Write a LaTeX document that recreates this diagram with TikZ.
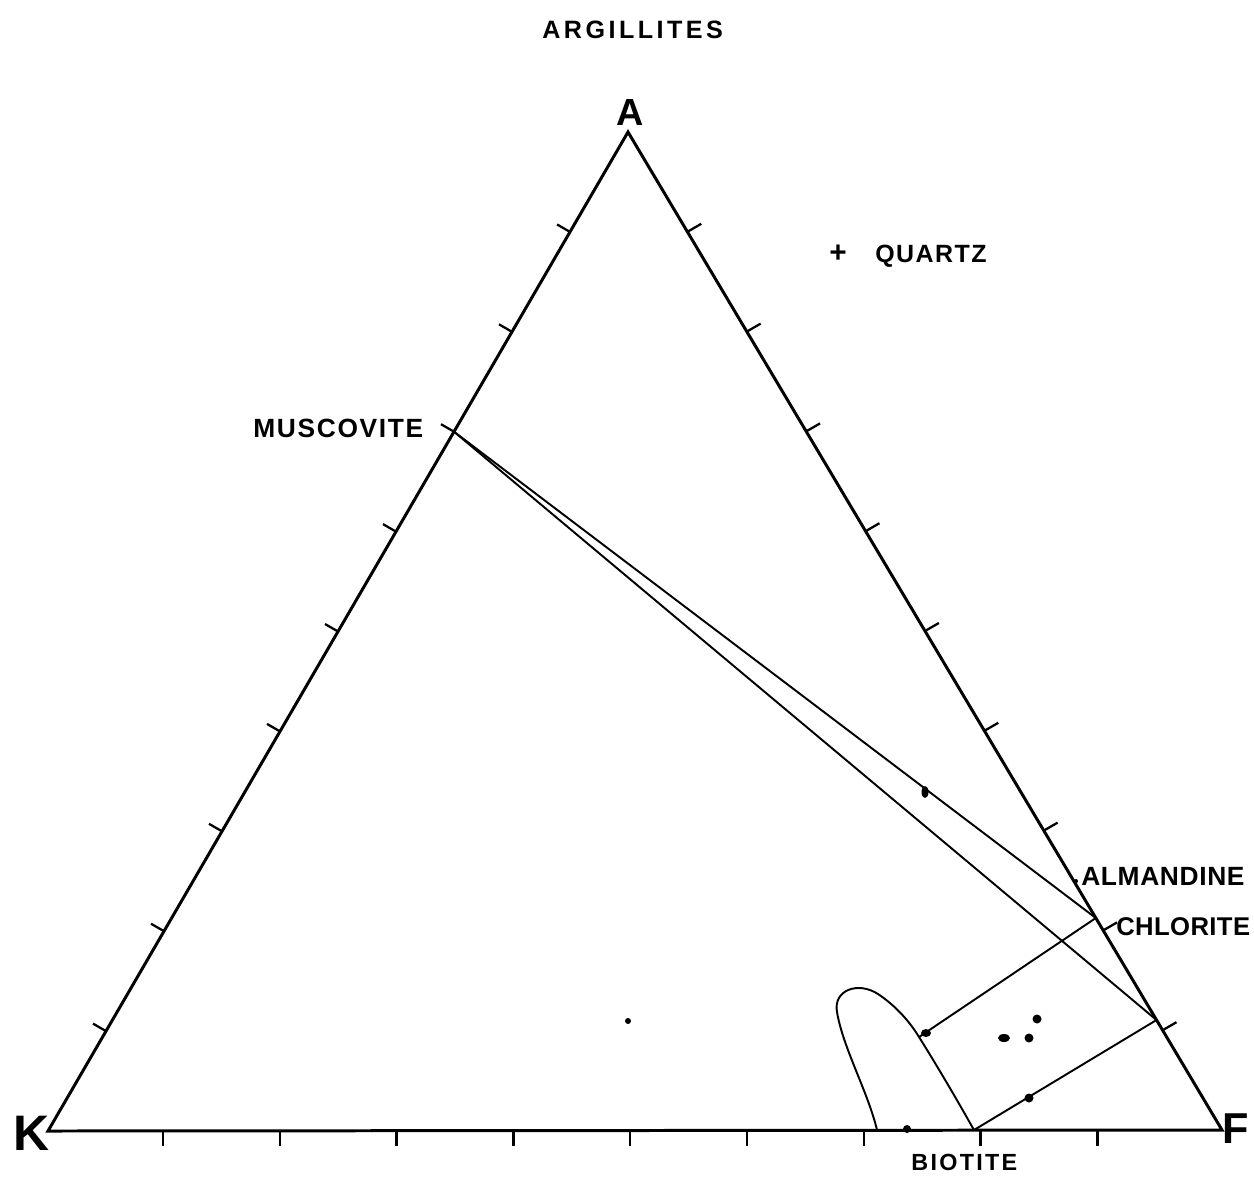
\documentclass[tikz,border=0pt]{standalone}
\usepackage{fontspec}
\setmainfont{Liberation Sans}
\usetikzlibrary{calc}
\newcommand\myfs[1]{\fontsize{#1}{#1}\selectfont}
\begin{document}
\begin{tikzpicture}[x=0.02cm,y=-0.02cm,
  sideline/.style={line width=1.7pt, line join=miter},
  tieline/.style={line width=1.1pt},
  tickmark/.style={line width=1.3pt},
  lab/.style={inner sep=0pt, anchor=base west},
  dot/.style={fill=black}]
\useasboundingbox (0,0) rectangle (1254,1177);
% vertices
\coordinate (A) at (628,132);
\coordinate (K) at (48,1131);
\coordinate (F) at (1222,1130);
\draw[sideline] (K) -- (A) -- (F) -- cycle;
% ticks
\foreach \i in {1,...,9} {
  \draw[tickmark] ($(K)!\i/10!(A)$) -- ++(-150:15);
  \draw[tickmark] ($(A)!\i/10!(F)$) -- ++(-30:16);
}
\foreach \x in {163,279.8,396.6,513.4,630.2,747,863.8,980.6,1097.4}
  \draw[tickmark] (\x,1131) -- ++(0,15);
% phase points
\coordinate (Mu) at ($(K)!0.7!(A)$);
\coordinate (Al) at (1095.8,918);
\coordinate (P2) at (1156.5,1020);
\coordinate (Bi) at (974,1130);
\coordinate (UL) at (919,1037);
\coordinate (L0) at (877,1130);
% tie lines
\draw[tieline] (Mu) -- (Al);
\draw[tieline] (Mu) -- (P2);
\draw[tieline] (Al) -- (UL);
\draw[tieline] (P2) -- (Bi);
% lobe
\draw[tieline] (L0) .. controls (868,1092) and (843,1048) .. (837,1012)
  .. controls (833,990) and (858,981) .. (878,994)
  .. controls (896,1006) and (910,1022) .. (UL)
  .. controls (936,1064) and (956,1098) .. (Bi);
% data points
\fill[dot] (925,792) ellipse [x radius=3.5, y radius=6];
\fill[dot] (926,1033) ellipse [x radius=5, y radius=4];
\fill[dot] (1004,1038) ellipse [x radius=6, y radius=4];
\fill[dot] (1029,1038) circle [radius=4.5];
\fill[dot] (1037,1019) circle [radius=4.5];
\fill[dot] (1029,1098) circle [radius=4.5];
\fill[dot] (907,1129) circle [radius=4];
\fill[dot] (628,1021) circle [radius=3];
\fill[dot] (1076,881) circle [radius=2];
% labels
\node[lab] (arg) at (542,38) {\bfseries\myfs{14.3}\addfontfeature{LetterSpace=13.8}ARGILLITES};
\node[inner sep=0pt, anchor=base] (Alab) at (630,125) {\bfseries\myfs{21.5}A};
\node[lab] (Klab) at (13,1150) {\bfseries\myfs{28.4}K};
\node[lab] (Flab) at (1222,1143) {\bfseries\myfs{24.6}F};
\node[inner sep=0pt] (plus) at (838,254) {\bfseries\myfs{17}+};
\node[lab] (qtz) at (875,262) {\bfseries\myfs{14.2}\addfontfeature{LetterSpace=5.8}QUARTZ};
\node[lab] (mus) at (253,437) {\bfseries\myfs{15}\addfontfeature{LetterSpace=6.3}MUSCOVITE};
\node[lab] (alm) at (1081,885) {\bfseries\myfs{15}\addfontfeature{LetterSpace=2.4}ALMANDINE};
\node[lab] (chl) at (1116,935) {\bfseries\myfs{14.6}\addfontfeature{LetterSpace=1.5}CHLORITE};
\node[lab] (bio) at (911,1170) {\bfseries\myfs{13.3}\addfontfeature{LetterSpace=9.8}BIOTITE};
\end{tikzpicture}
\end{document}
